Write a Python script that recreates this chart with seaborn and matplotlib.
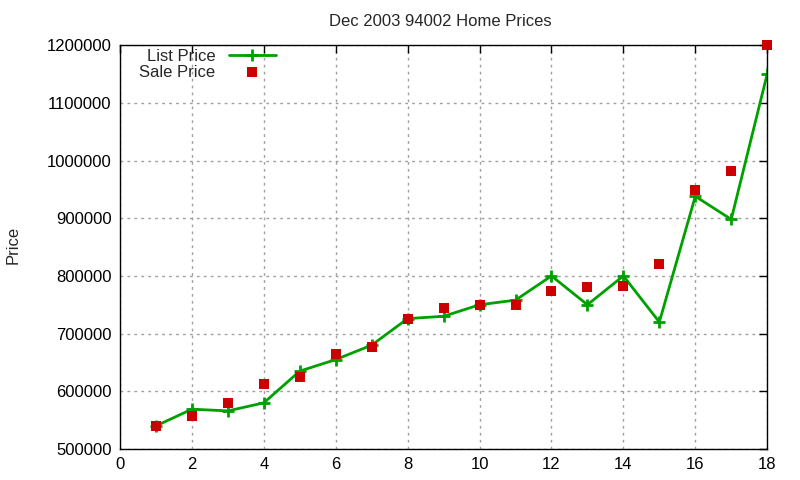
import matplotlib
matplotlib.use("Agg")
import matplotlib.pyplot as plt
import seaborn as sns
import pandas as pd

# values
house = list(range(1, 19))
list_price = [540000, 569000, 566000, 580000, 635000, 655000, 680000, 726000, 730000,
              750000, 758000, 800000, 750000, 800000, 720000, 938000, 898000, 1150000]
sale_price = [540000, 558000, 580000, 613000, 625000, 665000, 677000, 725000, 745000,
              750000, 750000, 774000, 781000, 783000, 821000, 949000, 982000, 1200000]

df = pd.DataFrame({'house': house, 'list': list_price, 'sale': sale_price})

sns.set_style('white')
plt.rcParams['font.family'] = ['Liberation Sans', 'DejaVu Sans']

fig = plt.figure(figsize=(8, 4.8), dpi=100)
ax = fig.add_axes([0.15, 0.0646, 0.809, 0.8414])

sns.lineplot(data=df, x='house', y='list', ax=ax, color='#00a000', linewidth=2,
             marker='+', markersize=9, markeredgewidth=2, markeredgecolor='#00a000',
             label='List Price')
sns.scatterplot(data=df, x='house', y='sale', ax=ax, color='#cc0000', marker='s',
                s=60, linewidth=0, label='Sale Price', clip_on=False, zorder=5)

ax.set_xlim(0, 18)
ax.set_ylim(500000, 1200000)
ax.set_xticks(range(0, 19, 2))
ax.set_yticks(range(500000, 1200001, 100000))
ax.ticklabel_format(axis='y', style='plain', useOffset=False)
ax.tick_params(direction='in', top=True, right=True, length=6, width=1, labelsize=12,
               colors='black', pad=6)
ax.grid(True, linestyle=(0, (2, 3)), color='#a0a0a0', linewidth=1)
for s in ax.spines.values():
    s.set_color('black')
    s.set_linewidth(1)

ax.set_xlabel('')
ax.set_ylabel('')
fig.text(0.016, 0.49, 'Price', rotation=90, ha='center', va='center', fontsize=12)
fig.text(0.55, 0.955, 'Dec 2003 94002 Home Prices', ha='center', va='center', fontsize=12)

ax.legend(loc='upper left', bbox_to_anchor=(0.012, 1.02), markerfirst=False, frameon=False,
          fontsize=12, handlelength=2.8, labelspacing=0.05, borderaxespad=0.3)

fig.savefig('out.png', dpi=100)
